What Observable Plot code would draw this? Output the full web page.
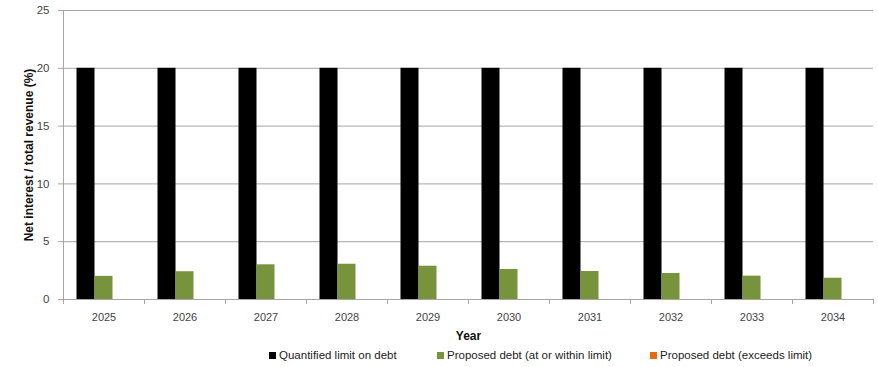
<!DOCTYPE html>
<html>
<head>
<meta charset="utf-8">
<script src="https://cdn.jsdelivr.net/npm/d3@7"></script>
<script src="https://cdn.jsdelivr.net/npm/@observablehq/plot@0.6"></script>
<style>
  html, body { margin: 0; padding: 0; background: #fff; }
  body { width: 878px; font-family: "Liberation Sans", "DejaVu Sans", sans-serif; }
  #legend { position: relative; height: 22px; font-size: 11.5px; color: #222; }
  .item { position: absolute; top: 4px; display: flex; align-items: center; white-space: nowrap; }
  .sw { width: 7px; height: 7px; margin-right: 3px; display: inline-block; }
</style>
</head>
<body>
<div id="chart"></div>
<div id="legend"></div>
<script>
const years = [2025, 2026, 2027, 2028, 2029, 2030, 2031, 2032, 2033, 2034];
const seriesNames = ["Quantified limit on debt", "Proposed debt (at or within limit)", "Proposed debt (exceeds limit)"];
const seriesColors = ["#000000", "#77933c", "#e46c0a"];
const limitValues = [20, 20, 20, 20, 20, 20, 20, 20, 20, 20];
const withinValues = [2.0, 2.4, 3.0, 3.05, 2.88, 2.6, 2.42, 2.25, 2.02, 1.84];
const exceedsValues = [0, 0, 0, 0, 0, 0, 0, 0, 0, 0];
const yTicks = [0, 5, 10, 15, 20, 25];

const seriesValues = [limitValues, withinValues, exceedsValues];
// position of each series within a year group (fraction of the year band)
const groupOffset = [-1/3, -1/9, 1/9];
const barWidth = 2/9;

const data = [];
seriesValues.forEach((vals, s) => {
  years.forEach((yr, i) => {
    data.push({year: yr, series: seriesNames[s], value: vals[i],
               x1: yr + groupOffset[s], x2: yr + groupOffset[s] + barWidth});
  });
});
const boundaries = years.map(y => y - 0.5).concat([years[years.length - 1] + 0.5]);

const chart = Plot.plot({
  width: 878,
  height: 345,
  marginLeft: 63,
  marginRight: 5,
  marginTop: 10,
  marginBottom: 46,
  style: {fontFamily: "Liberation Sans, DejaVu Sans, sans-serif", fontSize: "10px", color: "#333"},
  x: {type: "linear", domain: [2024.5, 2034.5], axis: null},
  y: {domain: [0, 25], axis: null},
  color: {domain: seriesNames, range: seriesColors},
  marks: [
    Plot.ruleY(yTicks, {stroke: "#a6a6a6", strokeWidth: 1}),
    Plot.ruleX([2024.5], {stroke: "#a6a6a6"}),
    Plot.ruleY(yTicks, {x1: 2024.5, x2: 2024.5, insetLeft: -5, stroke: "#a6a6a6"}),
    Plot.text(yTicks, {x: 2024.5, y: d => d, text: d => String(d), dx: -14, textAnchor: "end", fill: "#444", fontSize: 11.5}),
    Plot.rectY(data.filter(d => d.value > 0), {x1: "x1", x2: "x2", y1: 0, y2: "value", fill: "series"}),
    Plot.ruleX(boundaries, {y1: 0, y2: 0, stroke: "#a6a6a6", insetBottom: -5}),
    Plot.text(years, {x: d => d, y: 0, text: d => String(d), dy: 18, fill: "#444", fontSize: 11}),
    Plot.text(["Year"], {frameAnchor: "bottom", dy: 40, fontWeight: "bold", fontSize: 12, fill: "#111"}),
    Plot.text(["Net interest / total revenue (%)"], {frameAnchor: "left", textAnchor: "middle", dx: -34, rotate: -90, fontWeight: "bold", fontSize: 12, fill: "#111"})
  ]
});
document.getElementById("chart").appendChild(chart);

const legend = document.getElementById("legend");
const legendX = [269, 437, 650];
seriesNames.forEach((name, i) => {
  const it = document.createElement("div");
  it.className = "item";
  it.style.left = legendX[i] + "px";
  const sw = document.createElement("span");
  sw.className = "sw";
  sw.style.background = seriesColors[i];
  it.appendChild(sw);
  it.appendChild(document.createTextNode(name));
  legend.appendChild(it);
});
</script>
</body>
</html>
